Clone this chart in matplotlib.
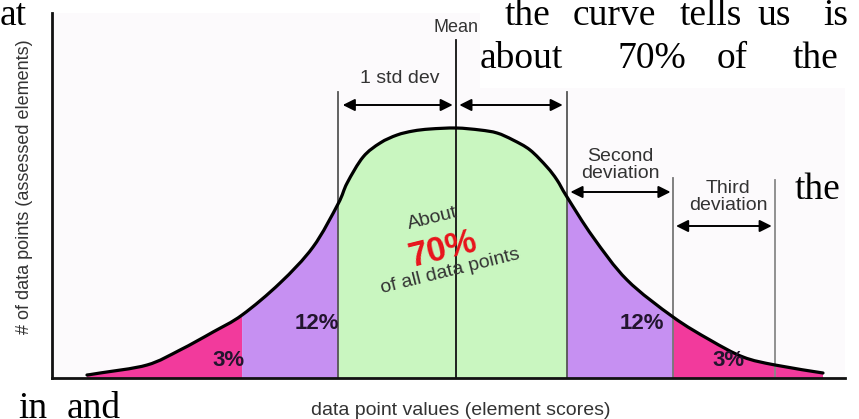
import numpy as np
import matplotlib
matplotlib.use("Agg")
import matplotlib.pyplot as plt
from matplotlib.path import Path
from matplotlib.patches import PathPatch

# curve: x in std-dev units, height relative to the peak
curve_x = [-3.355, -3.236, -2.809, -2.509, -2.209, -1.945, -1.6, -1.3, -1.073,
           -0.99, -0.845, -0.69, -0.536, -0.39, -0.236, 0.0, 0.218, 0.373, 0.518,
           0.673, 0.827, 0.918, 1.009, 1.245, 1.555, 1.973, 2.309, 2.609, 2.9, 3.336]
curve_y = [0.012, 0.02, 0.052, 0.112, 0.184, 0.252, 0.38, 0.524, 0.696,
           0.78, 0.884, 0.94, 0.972, 0.988, 0.996, 1.0, 0.992, 0.98, 0.952,
           0.912, 0.844, 0.792, 0.724, 0.564, 0.392, 0.244, 0.152, 0.084, 0.052, 0.02]

# shaded bands (start, end) and their colours
band_edges = [(-3.355, -1.945), (-1.945, -1.073), (-1.073, 1.009), (1.009, 1.973), (1.973, 3.336)]
band_colors = ["#f23a9c", "#c690f2", "#c9f6c0", "#c690f2", "#f23a9c"]

# vertical guide lines: position, top, colour
guide_x = [-1.073, 0.0, 1.009, 1.973, 2.9]
guide_top = [1.144, 1.352, 1.144, 0.80, 0.792]
guide_col = ["#555555", "#111111", "#555555", "#777777", "#888888"]

# percentage labels
pct_text = ["3%", "12%", "12%", "3%"]
pct_x = [-2.218, -1.464, 1.49, 2.327]
pct_y = [0.072, 0.22, 0.22, 0.072]


def smooth_segments(xs, ys):
    # cubic bezier pieces (catmull-rom style) passing through the read points
    pts = np.column_stack([xs, ys])
    n = len(pts)
    verts, codes = [], []
    for i in range(n - 1):
        p0 = pts[max(i - 1, 0)]
        p1 = pts[i]
        p2 = pts[i + 1]
        p3 = pts[min(i + 2, n - 1)]
        c1 = p1 + (p2 - p0) / 6
        c2 = p2 - (p3 - p1) / 6
        verts += [tuple(c1), tuple(c2), tuple(p2)]
        codes += [Path.CURVE4] * 3
    return verts, codes


W, H = 859, 419
fig = plt.figure(figsize=(W / 100, H / 100), dpi=100)
fig.patch.set_facecolor("white")

# white box behind the overlapping document text
fig.patches.append(plt.Rectangle((480 / W, 1 - 88 / H), 1, 88 / H, transform=fig.transFigure,
                                 facecolor="white", edgecolor="none", zorder=5))

ax = fig.add_axes([52 / W, (H - 378) / H, (845 - 52) / W, (378 - 13) / H])
ax.set_facecolor("#fcfafc")
ax.set_xlim(-3.673, 3.536)
ax.set_ylim(0, 1.46)
for s in ["top", "right"]:
    ax.spines[s].set_visible(False)
for s in ["left", "bottom"]:
    ax.spines[s].set_linewidth(2)
    ax.spines[s].set_color("#111111")
    ax.spines[s].set_zorder(6)
ax.set_xticks([])
ax.set_yticks([])

cx = np.array(curve_x)
cy = np.array(curve_y)
for (a, b), c in zip(band_edges, band_colors):
    m = (cx >= a) & (cx <= b)
    v, k = smooth_segments(cx[m], cy[m])
    verts = [(a, 0), (cx[m][0], cy[m][0])] + v + [(b, 0), (a, 0)]
    codes = [Path.MOVETO, Path.LINETO] + k + [Path.LINETO, Path.CLOSEPOLY]
    ax.add_patch(PathPatch(Path(verts, codes), facecolor=c, edgecolor="none", zorder=1))

for gx, gt, gc in zip(guide_x, guide_top, guide_col):
    ax.plot([gx, gx], [0, gt], color=gc, lw=1.3, zorder=2)

v, k = smooth_segments(cx, cy)
line = Path([(cx[0], cy[0])] + v, [Path.MOVETO] + k)
ax.add_patch(PathPatch(line, facecolor="none", edgecolor="black", lw=2.3, zorder=3,
                       capstyle="round"))

arrow = dict(arrowstyle="<|-|>", color="black", lw=1.4, mutation_scale=18, shrinkA=0, shrinkB=0)
ax.annotate("", xy=(-1.03, 1.092), xytext=(-0.03, 1.092), arrowprops=arrow)
ax.annotate("", xy=(0.03, 1.092), xytext=(0.97, 1.092), arrowprops=arrow)
ax.annotate("", xy=(1.04, 0.744), xytext=(1.95, 0.744), arrowprops=arrow)
ax.annotate("", xy=(2.0, 0.608), xytext=(2.87, 0.608), arrowprops=arrow)

lab = dict(family="Liberation Sans", color="#333333")
ax.text(-0.51, 1.2, "1 std dev", ha="center", va="center", fontsize=14, **lab)
ax.text(0.0, 1.404, "Mean", ha="center", va="center", fontsize=13, zorder=6, **lab)
ax.text(1.49, 0.852, "Second\ndeviation", ha="center", va="center", fontsize=14,
        linespacing=1.0, **lab)
ax.text(2.473, 0.724, "Third\ndeviation", ha="center", va="center", fontsize=14,
        linespacing=1.0, **lab)

for t, x, y in zip(pct_text, pct_x, pct_y):
    ax.text(x, y, t, ha="left", va="center", fontsize=16, fontweight="bold",
            family="Liberation Sans", color="#22152e", zorder=4)

ax.text(-0.21, 0.64, "About", ha="center", va="center", rotation=14, fontsize=14,
        family="Liberation Sans", color="#333333", zorder=4)
ax.text(-0.118, 0.516, "70%", ha="center", va="center", rotation=14, fontsize=25,
        fontweight="bold", family="Liberation Sans", color="#e8141c", zorder=4)
ax.text(-0.055, 0.425, "of all data points", ha="center", va="center", rotation=14,
        fontsize=14, family="Liberation Sans", color="#333333", zorder=4)

fig.text(25 / W, 1 - 187 / H, "# of data points (assessed elements)", rotation=90,
         ha="center", va="center", fontsize=13, **lab)
fig.text(461 / W, 1 - 410 / H, "data point values (element scores)",
         ha="center", va="center", fontsize=14, **lab)

# document text that overlaps the picture
serif = dict(family="Liberation Serif", fontsize=27, color="black", va="baseline", zorder=10)
fig.text(0, 1 - 25 / H, "at", ha="left", **serif)
for w, x in zip(["the", "curve", "tells", "us", "is"], [505, 573, 680, 757, 823]):
    fig.text(x / W, 1 - 25 / H, w, ha="left", **serif)
for w, x in zip(["about", "70%", "of", "the"], [480, 617, 717, 793]):
    fig.text(x / W, 1 - 68 / H, w, ha="left", **serif)
fig.text(795 / W, 1 - 199 / H, "the", ha="left", **serif)
fig.text(18 / W, 1 - 418 / H, "in", ha="left", **serif)
fig.text(67 / W, 1 - 418 / H, "and", ha="left", **serif)

fig.savefig("out.png", dpi=100)
